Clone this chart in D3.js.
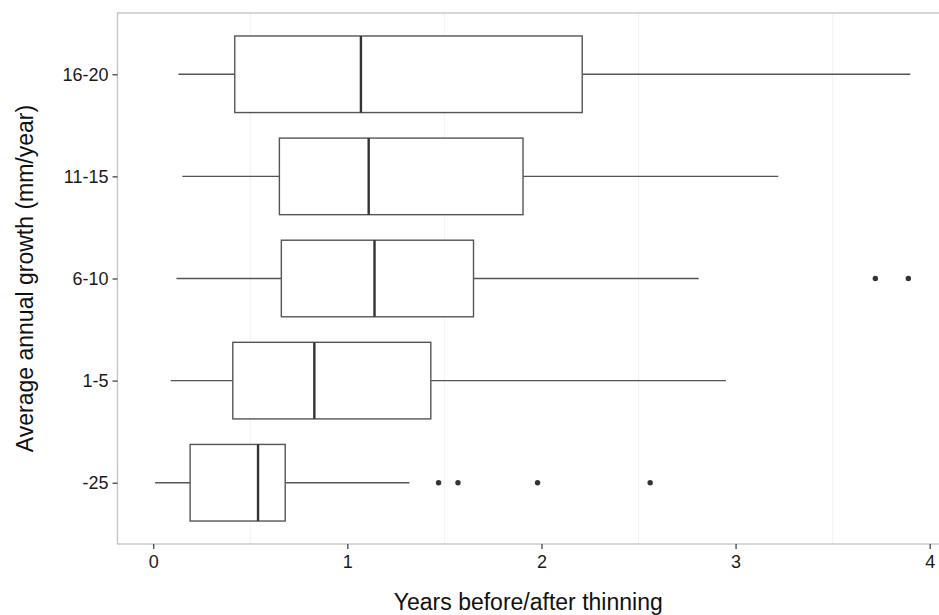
<!DOCTYPE html>
<html>
<head>
<meta charset="utf-8">
<script src="https://cdn.jsdelivr.net/npm/d3@7"></script>
<style>
  body { margin: 0; background: #fff; }
  text { font-family: "Liberation Sans", Arial, sans-serif; }
</style>
</head>
<body>
<div id="vis"></div>
<script>
var groups = ['16-20', '11-15', '6-10', '1-5', '-25'];
var whiskerLow = [0.13, 0.15, 0.12, 0.09, 0.01];
var q1 = [0.42, 0.65, 0.66, 0.41, 0.19];
var median = [1.07, 1.11, 1.14, 0.83, 0.54];
var q3 = [2.21, 1.905, 1.65, 1.43, 0.68];
var whiskerHigh = [3.90, 3.22, 2.81, 2.95, 1.32];
var outlierGroup = ['6-10', '6-10', '-25', '-25', '-25', '-25'];
var outlierValue = [3.72, 3.89, 1.47, 1.57, 1.98, 2.56];
var xTicks = [0, 1, 2, 3, 4];
var xMinor = [0.5, 1.5, 2.5, 3.5];

var W = 939, H = 615;
var panel = {left: 117.5, right: 946, top: 13, bottom: 544};

var svg = d3.select('#vis')
    .append('svg')
        .attr('width', W)
        .attr('height', H);

var x = d3.scaleLinear()
    .domain([-0.184, 4.084])
    .range([panel.left, panel.right]);

var y = d3.scalePoint()
    .domain(groups)
    .range([panel.top, panel.bottom])
    .padding(0.6);

var boxH = y.step() * 0.75;

// faint grid
svg.append('g')
    .selectAll('line')
    .data(xMinor)
    .enter()
    .append('line')
        .attr('x1', d => x(d)).attr('x2', d => x(d))
        .attr('y1', panel.top).attr('y2', panel.bottom)
        .style('stroke', '#f3f3f3')
        .style('stroke-width', 1);

var boxes = groups.map((g, i) => ({
    g: g, lo: whiskerLow[i], q1: q1[i], med: median[i], q3: q3[i], hi: whiskerHigh[i]
}));

var gb = svg.append('g');

// whiskers
gb.selectAll('.wl')
    .data(boxes)
    .enter()
    .append('line')
        .attr('x1', d => x(d.lo)).attr('x2', d => x(d.q1))
        .attr('y1', d => y(d.g)).attr('y2', d => y(d.g))
        .style('stroke', '#555').style('stroke-width', 1.3);

gb.selectAll('.wh')
    .data(boxes)
    .enter()
    .append('line')
        .attr('x1', d => x(d.q3)).attr('x2', d => x(d.hi))
        .attr('y1', d => y(d.g)).attr('y2', d => y(d.g))
        .style('stroke', '#555').style('stroke-width', 1.3);

// boxes
gb.selectAll('rect')
    .data(boxes)
    .enter()
    .append('rect')
        .attr('x', d => x(d.q1))
        .attr('width', d => x(d.q3) - x(d.q1))
        .attr('y', d => y(d.g) - boxH / 2)
        .attr('height', boxH)
        .style('fill', '#fff')
        .style('stroke', '#555')
        .style('stroke-width', 1.4);

// medians
gb.selectAll('.med')
    .data(boxes)
    .enter()
    .append('line')
        .attr('x1', d => x(d.med)).attr('x2', d => x(d.med))
        .attr('y1', d => y(d.g) - boxH / 2).attr('y2', d => y(d.g) + boxH / 2)
        .style('stroke', '#333').style('stroke-width', 2.4);

// outliers
svg.append('g')
    .selectAll('circle')
    .data(outlierValue)
    .enter()
    .append('circle')
        .attr('cx', d => x(d))
        .attr('cy', (d, i) => y(outlierGroup[i]))
        .attr('r', 2.7)
        .style('fill', '#333');

// panel border
svg.append('rect')
    .attr('x', panel.left).attr('y', panel.top)
    .attr('width', panel.right - panel.left)
    .attr('height', panel.bottom - panel.top)
    .style('fill', 'none')
    .style('stroke', '#c6c6c6')
    .style('stroke-width', 1.4);

// x axis
var xa = svg.append('g')
    .attr('transform', 'translate(0,' + panel.bottom + ')')
    .call(d3.axisBottom(x).tickValues(xTicks).tickSize(5).tickPadding(6).tickFormat(d3.format('d')));
xa.select('.domain').remove();
xa.selectAll('line').style('stroke', '#444').style('stroke-width', 1.3);
xa.selectAll('text').style('font-size', '18px').style('fill', '#1a1a1a')
    .style('font-family', '"Liberation Sans", Arial, sans-serif');

// y axis
var ya = svg.append('g')
    .attr('transform', 'translate(' + panel.left + ',0)')
    .call(d3.axisLeft(y).tickSize(5).tickPadding(4));
ya.select('.domain').remove();
ya.selectAll('line').style('stroke', '#444').style('stroke-width', 1.3);
ya.selectAll('text').style('font-size', '18px').style('fill', '#1a1a1a')
    .style('font-family', '"Liberation Sans", Arial, sans-serif');

// titles
svg.append('text')
    .attr('x', (panel.left + 939) / 2)
    .attr('y', 610)
    .attr('text-anchor', 'middle')
    .style('font-size', '23px')
    .style('fill', '#111')
    .text('Years before/after thinning');

svg.append('text')
    .attr('transform', 'translate(33,' + ((panel.top + panel.bottom) / 2) + ') rotate(-90)')
    .attr('text-anchor', 'middle')
    .style('font-size', '23px')
    .style('fill', '#111')
    .text('Average annual growth (mm/year)');
</script>
</body>
</html>
